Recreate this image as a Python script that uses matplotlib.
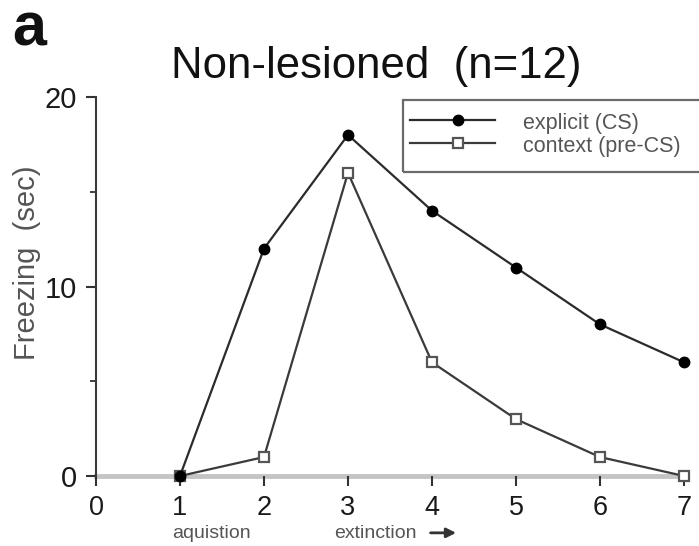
import matplotlib
matplotlib.use("Agg")
import matplotlib.pyplot as plt
from matplotlib.lines import Line2D
from matplotlib.patches import Rectangle

# Session number (1 = acquisition, 2-7 = extinction)
sessions = [1, 2, 3, 4, 5, 6, 7]
explicit_cs = [0, 12, 18, 14, 11, 8, 6]
context_pre_cs = [0, 1, 16, 6, 3, 1, 0]
series_labels = ["explicit (CS)", "context (pre-CS)"]

x_ticks = [0, 1, 2, 3, 4, 5, 6, 7]
y_major = [0, 10, 20]
y_minor = [5, 15]

W, H = 699, 546
plt.rcParams["font.family"] = ["Liberation Sans", "DejaVu Sans"]

fig = plt.figure(figsize=(W / 100, H / 100), dpi=100)
ax = fig.add_axes([96 / W, 1 - 476 / H, 588 / W, 379 / H])

explicit_style = dict(color="#2b2b2b", lw=1.6, marker="o", ms=7.5,
                      mfc="black", mec="black", mew=1)
context_style = dict(color="#3a3a3a", lw=1.6, marker="s", ms=6.5,
                     mfc="white", mec="#555555", mew=1.6)

ax.plot(sessions, explicit_cs, clip_on=False, zorder=4, **explicit_style)
ax.plot(sessions, context_pre_cs, clip_on=False, zorder=3, **context_style)

ax.set_xlim(0, 7)
ax.set_ylim(0, 20)
ax.set_xticks(x_ticks)
ax.set_yticks(y_major)
ax.set_yticks(y_minor, minor=True)

for s in ("top", "right"):
    ax.spines[s].set_visible(False)
ax.spines["left"].set_color("#3a3a3a")
ax.spines["left"].set_linewidth(1.5)
ax.spines["bottom"].set_color("#c4c4c4")
ax.spines["bottom"].set_linewidth(3.5)
ax.spines["bottom"].set_zorder(1)

ax.tick_params(axis="x", direction="out", length=7, width=1.5, color="#333333",
               labelsize=19.5, pad=7, labelcolor="#1a1a1a")
ax.tick_params(axis="y", which="major", direction="out", length=7, width=1.5,
               color="#333333", labelsize=21, pad=7, labelcolor="#1a1a1a")
ax.tick_params(axis="y", which="minor", direction="out", length=4, width=1.3,
               color="#333333")

ax.set_ylabel("Freezing  (sec)", fontsize=21, color="#555555")
ax.yaxis.set_label_coords(-0.117, 0.562)
ax.yaxis.label.set_va("center")

# phase captions under the x axis
xa = ax.get_xaxis_transform()
ax.text(1.38, -0.153, "aquistion", transform=xa, ha="center", va="center",
        fontsize=14, color="#555555")
ax.text(3.32, -0.153, "extinction", transform=xa, ha="center", va="center",
        fontsize=14, color="#555555")
ax.annotate("", xy=(4.32, -0.15), xytext=(3.95, -0.15), xycoords=xa,
            textcoords=xa,
            arrowprops=dict(arrowstyle="-|>", color="#333333", lw=2,
                            mutation_scale=14), annotation_clip=False)

# title and panel letter
fig.text(376 / W, 1 - 78 / H, "Non-lesioned  (n=12)", ha="center",
         va="baseline", fontsize=31.5, color="#111111")
fig.text(12 / W, 1 - 45 / H, "a", ha="left", va="baseline", fontsize=44,
         fontweight="bold", color="#111111")

# legend box
fig.add_artist(Rectangle((403 / W, 1 - 172 / H), 320 / W, 72 / H,
                         transform=fig.transFigure, fill=False,
                         edgecolor="#6a6a6a", lw=1.6, clip_on=False))
for (yy, style, label) in [(120, explicit_style, series_labels[0]),
                           (143, context_style, series_labels[1])]:
    line_style = {k: v for k, v in style.items()
                  if k not in ("marker", "ms", "mfc", "mec", "mew")}
    fig.add_artist(Line2D([410 / W, 495 / W], [1 - yy / H] * 2,
                          transform=fig.transFigure, **line_style))
    fig.add_artist(Line2D([458 / W], [1 - yy / H], transform=fig.transFigure,
                          linestyle="none", marker=style["marker"],
                          ms=style["ms"], mfc=style["mfc"], mec=style["mec"],
                          mew=style["mew"]))
    fig.text(523 / W, 1 - (yy + 4) / H, label, ha="left", va="center",
             fontsize=15.5, color="#555555")

fig.savefig("out.png", dpi=100)
